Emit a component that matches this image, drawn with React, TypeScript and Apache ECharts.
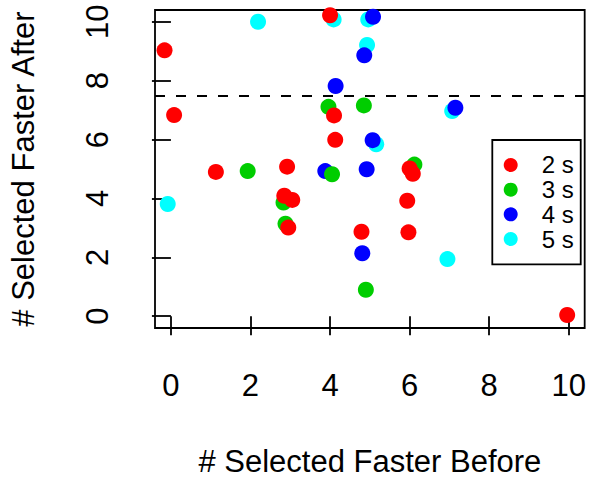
import React, { useEffect, useRef } from "react";
import * as echarts from "echarts";

const seriesNames = ["2 s", "3 s", "4 s", "5 s"];
const seriesColors = ["#FF0000", "#00CD00", "#0000FF", "#00FFFF"];

const red2s: [number, number][] = [
  [-0.16, 9.03], [0.08, 6.83], [4.0, 10.22], [4.1, 6.82], [4.13, 5.99],
  [1.13, 4.9], [2.92, 5.08], [6.0, 5.02], [6.08, 4.84], [2.85, 4.09],
  [3.05, 3.95], [2.95, 3.01], [4.79, 2.87], [5.94, 3.92], [5.97, 2.85],
  [9.96, 0.04],
];
const green3s: [number, number][] = [
  [3.96, 7.11], [4.85, 7.16], [1.93, 4.93], [4.05, 4.82], [6.12, 5.15],
  [2.83, 3.86], [2.88, 3.14], [4.9, 0.9],
];
const blue4s: [number, number][] = [
  [5.08, 10.17], [4.86, 8.86], [4.14, 7.82], [7.15, 7.08], [5.07, 5.98],
  [3.88, 4.93], [4.92, 4.99], [4.81, 2.14],
];
const cyan5s: [number, number][] = [
  [2.19, 10.0], [4.09, 10.08], [4.96, 10.08], [4.93, 9.21], [7.07, 6.97],
  [5.16, 5.84], [-0.08, 3.81], [6.95, 1.94],
];

const tickValues = [0, 2, 4, 6, 8, 10];
const thresholdY = 7.5;
const xTitle = "# Selected Faster Before";
const yTitle = "# Selected Faster After";

const FONT = "'Liberation Sans', Arial, Helvetica, sans-serif";

export default function App() {
  const ref = useRef<HTMLDivElement>(null);
  useEffect(() => {
    if (!ref.current) return;
    const chart = echarts.init(ref.current, undefined, { renderer: "svg" });
    const axisCommon = {
      type: "value" as const,
      min: -0.4,
      max: 10.4,
      splitLine: { show: false },
      axisLine: { show: false },
      axisTick: {
        show: true,
        customValues: tickValues,
        length: 19,
        lineStyle: { color: "#000", width: 1.8 },
      },
      nameLocation: "middle" as const,
      nameTextStyle: { fontSize: 31, color: "#000", fontFamily: FONT },
    };
    const mk = (name: string, data: [number, number][], color: string, extra: any = {}) => ({
      type: "scatter",
      name,
      data,
      symbol: "circle",
      symbolSize: 16,
      itemStyle: { color, opacity: 1 },
      ...extra,
    });
    chart.setOption({
      animation: false,
      backgroundColor: "#fff",
      grid: {
        left: 154.7,
        top: 10,
        right: 1,
        bottom: 153,
        show: true,
        borderColor: "#000",
        borderWidth: 1.8,
        backgroundColor: "transparent",
      },
      xAxis: {
        ...axisCommon,
        name: xTitle,
        nameGap: 118,
        axisLabel: {
          customValues: tickValues,
          margin: 42,
          fontSize: 31,
          color: "#000",
          fontFamily: FONT,
        },
      },
      yAxis: {
        ...axisCommon,
        name: yTitle,
        nameGap: 116,
        nameRotate: 90,
        axisLabel: {
          customValues: tickValues,
          margin: 42,
          rotate: 90,
          fontSize: 31,
          color: "#000",
          fontFamily: FONT,
        },
      },
      legend: {
        data: seriesNames,
        orient: "vertical",
        left: 492.3,
        top: 140,
        padding: [12.6, 7, 12.9, 11.4],
        borderColor: "#000",
        borderWidth: 1.8,
        itemWidth: 14,
        itemHeight: 14,
        itemGap: 0,
        icon: "circle",
        textStyle: {
          fontSize: 24,
          lineHeight: 24.7,
          color: "#000",
          fontFamily: FONT,
          padding: [0, 0, 0, 19],
        },
      },
      series: [
        mk(seriesNames[3], cyan5s, seriesColors[3]),
        mk(seriesNames[2], blue4s, seriesColors[2]),
        mk(seriesNames[1], green3s, seriesColors[1]),
        mk(seriesNames[0], red2s, seriesColors[0], {
          markLine: {
            silent: true,
            symbol: ["none", "none"],
            label: { show: false },
            lineStyle: { color: "#000", type: [10, 11], width: 1.8 },
            data: [{ yAxis: thresholdY }],
          },
        }),
      ],
    });
    return () => chart.dispose();
  }, []);
  return (
    <div
      ref={ref}
      style={{ position: "fixed", left: 0, top: 0, width: 589, height: 482 }}
    />
  );
}
